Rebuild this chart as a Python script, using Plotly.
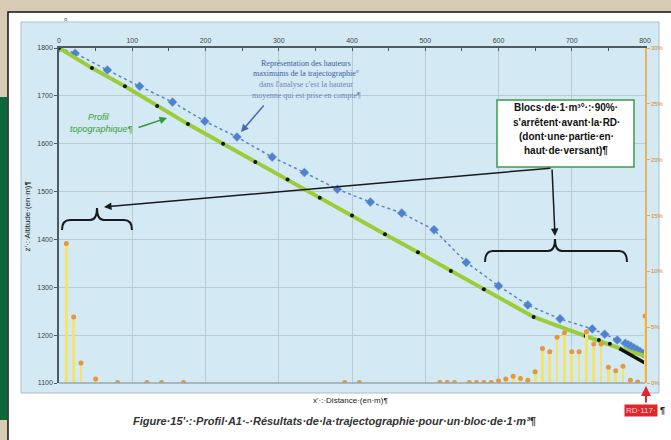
import plotly.graph_objects as go

# ---------------- data ----------------
profile_d = [0, 45, 90, 134, 176, 224, 268, 312, 356, 400, 445, 490, 535, 580, 625, 648, 690, 719, 737, 752, 770, 800]
profile_z = [1800, 1758, 1720, 1679, 1641, 1600, 1562, 1525, 1487, 1450, 1411, 1373, 1334, 1296, 1258, 1238, 1214, 1198, 1190, 1182, 1170, 1157]
dot_d = [0, 45, 90, 134, 176, 224, 268, 312, 356, 400, 445, 490, 535, 580, 648, 719, 737, 752]
dot_z = [1800, 1758, 1720, 1679, 1641, 1600, 1562, 1525, 1487, 1450, 1411, 1373, 1334, 1296, 1238, 1198, 1190, 1182]
road_d = [765, 775, 785, 793, 800]
road_z = [1172, 1163, 1155, 1148, 1142]

max_d = [0, 22, 66, 110, 155, 199, 243, 291, 335, 380, 425, 468, 512, 556, 600, 640, 684, 728, 745, 762, 773, 777, 781, 785, 789, 793, 797, 801]
max_z = [1800, 1789, 1754, 1720, 1687, 1647, 1614, 1572, 1540, 1505, 1478, 1455, 1420, 1352, 1303, 1263, 1234, 1213, 1202, 1190, 1183, 1180, 1177, 1173, 1170, 1166, 1162, 1158]

stop_d = [10, 20, 30, 50, 80, 120, 140, 170, 390, 410,
          520, 530, 540, 560, 570, 580, 590, 600, 610, 620, 630, 640, 650, 660,
          670, 680, 690, 700, 710, 720, 730, 740, 750, 760, 770, 780, 790, 800]
stop_pct = [12.5, 5.9, 1.8, 0.35, 0.05, 0.05, 0.05, 0.05, 0.05, 0.05,
            0.05, 0.05, 0.05, 0.05, 0.05, 0.05, 0.05, 0.2, 0.35, 0.6, 0.4, 0.25, 1.0, 3.1,
            2.8, 4.1, 4.5, 2.8, 2.8, 4.6, 3.5, 3.5, 1.4, 1.1, 1.5, 0.25, 0.1, 6.0]

x_ticks = [0, 100, 200, 300, 400, 500, 600, 700, 800]
z_ticks = [1100, 1200, 1300, 1400, 1500, 1600, 1700, 1800]
pct_ticks = [0, 5, 10, 15, 20, 25, 30]

# ---------------- layout geometry (pixels) ----------------
W, H = 671, 440
PX0, PX1, PY0, PY1 = 59, 645, 48, 383


def px(x, y):
    return (x - PX0) / (PX1 - PX0), (PY1 - y) / (PY1 - PY0)


def rect(x0, y0, x1, y1, fill, line=None, lw=0, layer="below"):
    a, b = px(x0, y1)
    c, d = px(x1, y0)
    return dict(type="rect", xref="paper", yref="paper", x0=a, y0=b, x1=c, y1=d,
                fillcolor=fill, line=dict(color=line or fill, width=lw), layer=layer)


def brace(xl, xr, xm, yend, yh, ytip):
    pts = [("M", [(xl, yend)]), ("Q", [(xl, yh), (xl + 8, yh)]), ("L", [(xm - 7, yh)]),
           ("Q", [(xm, yh), (xm, ytip)]), ("Q", [(xm, yh), (xm + 7, yh)]), ("L", [(xr - 8, yh)]),
           ("Q", [(xr, yh), (xr, yend)])]
    s = ""
    for cmd, pl in pts:
        s += cmd + " " + " ".join("%.5f,%.5f" % px(x, y) for x, y in pl) + " "
    return dict(type="path", xref="paper", yref="paper", path=s.strip(),
                line=dict(color="#1a1a1a", width=2), layer="above")


fig = go.Figure()

fig.add_trace(go.Bar(x=stop_d, y=stop_pct, width=3.8, yaxis="y2",
                     marker=dict(color="#f4e46a", line=dict(width=0)), hoverinfo="skip"))
fig.add_trace(go.Scatter(x=stop_d, y=stop_pct, yaxis="y2", mode="markers",
                         marker=dict(color="#e8963a", size=5), hoverinfo="skip"))

fig.add_trace(go.Scatter(x=max_d, y=max_z, mode="lines+markers",
                         line=dict(color="#5a86c6", width=1.5, dash="dot"),
                         marker=dict(symbol="diamond", color="#4d82d0", size=7,
                                     line=dict(color="#7fa7e0", width=0.5))))
fig.add_trace(go.Scatter(x=profile_d, y=profile_z, mode="lines",
                         line=dict(color="#9ccc3a", width=4)))
fig.add_trace(go.Scatter(x=road_d, y=road_z, mode="lines",
                         line=dict(color="#111111", width=3.5)))
fig.add_trace(go.Scatter(x=dot_d, y=dot_z, mode="markers",
                         marker=dict(color="#111111", size=4)))

shapes = [
    rect(8, 12, 672, 441, "#ffffff", "#111111", 1.5),
    rect(0, 97, 7, 420, "#0b6a39"),
    rect(21, 22, 659, 393, "#d3e9f3", "#aabfca", 1),
]
shapes.append(dict(type="line", xref="paper", yref="paper", x0=0, x1=1, y0=0, y1=0,
                   line=dict(color="#9aa6ac", width=1.5), layer="above"))
shapes.append(brace(62, 132, 97, 230, 220, 208))
shapes.append(brace(485, 627, 555, 262, 251, 239))
shapes.append(rect(497, 100, 634, 167, "#ffffff", "#3f9a4a", 1.5, layer="above"))

ann = []


def text(x, y, t, size=8, color="#333", family="Liberation Sans", xanchor="center", **kw):
    a, b = px(x, y)
    ann.append(dict(xref="paper", yref="paper", x=a, y=b, text=t, showarrow=False,
                    xanchor=xanchor, yanchor="middle", font=dict(size=size, color=color, family=family), **kw))


def arrow(x0, y0, x1, y1, color="#1a1a1a", width=1.5, head=2, size=1):
    a, b = px(x1, y1)
    ann.append(dict(xref="paper", yref="paper", x=a, y=b, ax=x0 - x1, ay=y0 - y1, text="",
                    showarrow=True, arrowhead=head, arrowsize=size, arrowwidth=width, arrowcolor=color))


for i, t in enumerate(["Blocs·de·1·m³°·:·90%·", "s'arrêtent·avant·la·RD·",
                       "(dont·une·partie·en·", "haut·de·versant)¶"]):
    text(566, 108 + i * 14.3, "<b>" + t + "</b>", size=10, color="#111")

blue_lines = [("Représentation des hauteurs", "#3f5ea8"), ("maximums de la trajectographie°", "#3f5ea8"),
              ("dans l'analyse c'est la hauteur", "#6d86bf"), ("moyenne qui est prise en compte¶", "#6d86bf")]
for i, (t, c) in enumerate(blue_lines):
    text(306, 63 + i * 10.7, t, size=8, color=c, family="Liberation Serif")

text(99, 117, "<i>Profil</i>", size=9, color="#3a9e3a")
text(101, 129, "<i>topographique¶</i>", size=9, color="#3a9e3a")

text(350, 400, "x'·:·Distance·(en·m)¶", size=8, color="#222")
a, b = px(20, 217)
ann.append(dict(xref="paper", yref="paper", x=a, y=b, text="z'·:·Altitude·(en·m)¶", textangle=-90,
                showarrow=False, font=dict(size=8, color="#222", family="Liberation Sans")))
text(334, 421, "<b><i>Figure·15'·:·Profil·A1·-·Résultats·de·la·trajectographie·pour·un·bloc·de·1·m³¶</i></b>",
     size=11, color="#333")
text(65, 19, "¤", size=6, color="#555")

text(641, 410, "RD·117·", size=8, color="#ffd6d6", bgcolor="#e3242b", borderpad=1)
text(662, 410, "<b>¶</b>", size=9, color="#111")

arrow(552, 168, 104, 207)
arrow(552, 168, 555, 236)
arrow(137, 128, 167, 118, color="#2f9a3a", width=1.5)
arrow(265, 104, 241, 132, color="#4a68b0", width=1.5)
arrow(646, 404, 646, 386, color="#e3242b", width=2)

fig.update_layout(
    width=W, height=H,
    margin=dict(l=PX0, r=W - PX1, t=PY0, b=H - PY1, autoexpand=False),
    paper_bgcolor="#d8cbb3",
    plot_bgcolor="rgba(0,0,0,0)",
    showlegend=False,
    bargap=0,
    shapes=shapes,
    annotations=ann,
    xaxis=dict(range=[0, 800], side="top", tickvals=x_ticks, showgrid=True, gridcolor="#bccbd3",
               gridwidth=1, showline=True, linecolor="#4f5a60", linewidth=2, ticks="inside",
               ticklen=3, tickcolor="#4f5a60", zeroline=False, automargin=False,
               minor=dict(dtick=50, ticks="inside", ticklen=3, tickcolor="#4f5a60", showgrid=False),
               tickfont=dict(size=7, color="#444", family="Liberation Sans")),
    yaxis=dict(range=[1100, 1800], tickvals=z_ticks, showgrid=True, gridcolor="#bccbd3",
               showline=True, linecolor="#4f5a60", linewidth=1.5, ticks="outside", ticklen=3,
               tickcolor="#4f5a60", zeroline=False, automargin=False,
               tickfont=dict(size=7, color="#444", family="Liberation Sans")),
    yaxis2=dict(range=[0, 30], overlaying="y", side="right", tickvals=pct_ticks,
                ticktext=[str(v) + "%" for v in pct_ticks], showgrid=False, zeroline=False,
                showline=True, linecolor="#e8b060", linewidth=1.5, ticks="outside", ticklen=3,
                tickcolor="#e8a850", automargin=False,
                tickfont=dict(size=6, color="#d08a30", family="Liberation Sans")),
)

fig.write_html("out.html", config={"displayModeBar": False},
               post_script="document.body.style.margin='0';document.body.style.overflow='hidden';")
